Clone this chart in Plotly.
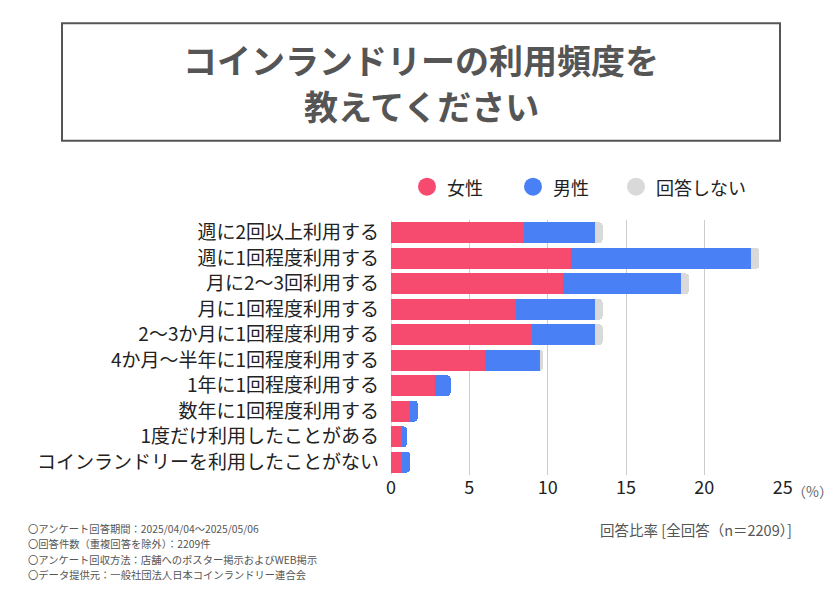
import plotly.graph_objects as go

# ---------- data ----------
categories = [
    "週に2回以上利用する",
    "週に1回程度利用する",
    "月に2～3回利用する",
    "月に1回程度利用する",
    "2～3か月に1回程度利用する",
    "4か月～半年に1回程度利用する",
    "1年に1回程度利用する",
    "数年に1回程度利用する",
    "1度だけ利用したことがある",
    "コインランドリーを利用したことがない",
]
female = [8.5, 11.5, 11.0, 8.0, 9.0, 6.0, 2.8, 1.2, 0.7, 0.7]
male   = [4.5, 11.5, 7.5, 5.0, 4.0, 3.5, 1.0, 0.5, 0.3, 0.5]
no_ans = [0.5, 0.5, 0.5, 0.5, 0.5, 0.2, 0.0, 0.0, 0.0, 0.0]
x_ticks = [0, 5, 10, 15, 20, 25]

series = [("女性", female, "#F74A6F"),
          ("男性", male, "#4A80F5"),
          ("回答しない", no_ans, "#D9D9D9")]

FONT = "Noto Sans CJK JP"
GREY = "#555555"

fig = go.Figure()
for name, vals, col in series:
    fig.add_trace(go.Bar(
        y=categories, x=vals, orientation="h", name=name,
        marker=dict(color=col, line=dict(width=0)),
        showlegend=False,
    ))

# page has an 8px body margin, so positions below are page px minus 8
W, H = 840, 590
OFF = 8
L, R, T, B = 391 - OFF, 840 - 783 + OFF, 219.5 - OFF, 590 - 475.5 + OFF
pw, ph = W - L - R, H - T - B
px = lambda v: (v - OFF - L) / pw
py = lambda v: (H - B - (v - OFF)) / ph

shapes = [dict(
    type="rect", xref="paper", yref="paper",
    x0=px(62), x1=px(780), y0=py(140), y1=py(22),
    line=dict(color=GREY, width=2), fillcolor="rgba(0,0,0,0)",
)]

ann = [
    dict(text="<b>コインランドリーの利用頻度を</b>", x=px(421), y=py(58),
         font=dict(size=34, color=GREY)),
    dict(text="<b>教えてください</b>", x=px(421), y=py(105),
         font=dict(size=34, color=GREY)),
    dict(text="（%）", x=px(790), y=py(492), xanchor="left",
         font=dict(size=14, color="#666666")),
    dict(text="回答比率 [全回答（n＝2209）]", x=px(794), y=py(530),
         xanchor="right", font=dict(size=14.5, color=GREY)),
]

# legend with round symbols
leg_x = [427, 533, 636]
for (name, _, col), lx in zip(series, leg_x):
    shapes.append(dict(
        type="circle", xref="paper", yref="paper",
        xsizemode="pixel", ysizemode="pixel",
        xanchor=px(lx), yanchor=py(186),
        x0=-9, x1=9, y0=-9, y1=9,
        fillcolor=col, line=dict(width=0),
    ))
    ann.append(dict(text=name, x=px(lx + 18), y=py(186), xanchor="left",
                    font=dict(size=18, color="#222222")))

notes = [
    "〇アンケート回答期間：2025/04/04〜2025/05/06",
    "〇回答件数（重複回答を除外）：2209件",
    "〇アンケート回収方法：店舗へのポスター掲示およびWEB掲示",
    "〇データ提供元：一般社団法人日本コインランドリー連合会",
]
for i, t in enumerate(notes):
    ann.append(dict(text=t, x=px(26), y=py(529 + 15.5 * i), xanchor="left",
                    font=dict(size=10.3, color=GREY)))
for a in ann:
    a.update(xref="paper", yref="paper", showarrow=False,
             yanchor=a.get("yanchor", "middle"))
    a.setdefault("xanchor", "center")

fig.update_layout(
    width=W, height=H,
    margin=dict(l=L, r=R, t=T, b=B, autoexpand=False),
    paper_bgcolor="white", plot_bgcolor="white",
    barmode="stack", bargap=0.19, barcornerradius=3,
    font=dict(family=FONT, color="#222222"),
    showlegend=False,
    xaxis=dict(
        range=[0, 25.02], tickvals=x_ticks, showgrid=True,
        gridcolor="#CCCCCC", gridwidth=1, zeroline=True,
        zerolinecolor="#DDDDDD", zerolinewidth=1,
        tickfont=dict(size=18, color="#222222"), ticks="",
        showline=False, fixedrange=True, automargin=False,
    ),
    yaxis=dict(
        autorange="reversed", showgrid=False, ticks="",
        tickfont=dict(size=19, color="#222222"), ticklabelstandoff=11,
        showline=False, fixedrange=True, automargin=False,
    ),
    shapes=shapes,
    annotations=ann,
)

fig.write_html("out.html")
